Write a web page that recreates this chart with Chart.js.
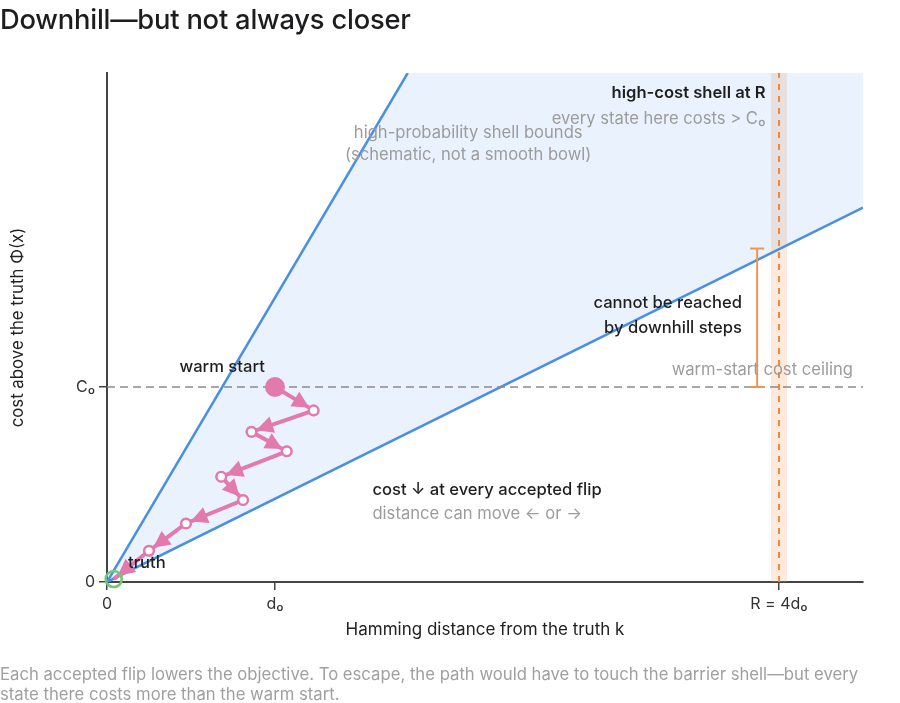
<!DOCTYPE html>
<html><head><meta charset="utf-8">
<script src="https://cdn.jsdelivr.net/npm/chart.js@4"></script>
<style>
body{margin:0;background:#fff;font-family:Inter,"Noto Sans",sans-serif;}
#wrap{position:relative;width:900px;height:703px;overflow:hidden}
#title{position:absolute;left:0;top:4px;font-size:27.3px;font-weight:500;color:#1d1d1f;line-height:32px;white-space:nowrap;letter-spacing:-0.2px}
#caption{position:absolute;left:0;top:664px;width:900px;font-size:16.7px;line-height:20px;color:#a0a0a0;white-space:nowrap}
#cv{position:absolute;left:0;top:0}
</style></head><body>
<div id="wrap">
<canvas id="cv"></canvas>
<div id="title">Downhill—but not always closer</div>
<div id="caption">Each accepted flip lowers the objective. To escape, the path would have to touch the barrier shell—but every<br>state there costs more than the warm start.</div>
</div>
<script>
// ---- data ----
const xTickValues = [0, 1, 4];
const xTickLabels = ['0', 'd\u2080', 'R = 4d\u2080'];
const yTickValues = [0, 1];
const yTickLabels = ['0', 'C\u2080'];
const xMax = 4.5;
const yMax = 2.61;
const steepBoundX = [0, 1.79];
const steepBoundY = [0, 2.61];
const shallowBoundX = [0, 4.5];
const shallowBoundY = [0, 1.92];
const pathX = [1.00, 1.23, 0.86, 1.07, 0.68, 0.81, 0.47, 0.25, 0.04];
const pathY = [1.00, 0.88, 0.77, 0.67, 0.54, 0.42, 0.30, 0.16, 0.015];
const truthX = [0.04];
const truthY = [0.015];
const warmStartCost = 1;      // C0
const shellDistance = 4;      // R
const barrierBarX = [3.87, 3.87];
const barrierBarY = [1, 1.71];

const FONT = 'Inter, "Noto Sans", sans-serif';
const pts = (xs, ys) => xs.map((x, i) => ({x, y: ys[i]}));

const fillPoly = [
  {x: steepBoundX[0], y: steepBoundY[0]},
  {x: steepBoundX[1], y: steepBoundY[1]},
  {x: xMax, y: yMax},
  {x: shallowBoundX[1], y: shallowBoundY[1]}
];

const notes = [
  {t:'high-probability shell bounds', x:2.15, y:2.30, align:'center', color:'#9c9c9c', w:400},
  {t:'(schematic, not a smooth bowl)', x:2.15, y:2.19, align:'center', color:'#9c9c9c', w:400},
  {t:'high-cost shell at R', x:3.92, y:2.505, align:'right', color:'#1f1f1f', w:600},
  {t:'every state here costs > C\u2080', x:3.92, y:2.375, align:'right', color:'#9c9c9c', w:400},
  {t:'cannot be reached', x:3.78, y:1.43, align:'right', color:'#1f1f1f', w:500},
  {t:'by downhill steps', x:3.78, y:1.305, align:'right', color:'#1f1f1f', w:500},
  {t:'warm-start cost ceiling', x:4.44, y:1.085, align:'right', color:'#9c9c9c', w:400},
  {t:'warm start', x:0.685, y:1.10, align:'center', color:'#1f1f1f', w:500},
  {t:'truth', x:0.125, y:0.097, align:'left', color:'#1f1f1f', w:500},
  {t:'cost \u2193 at every accepted flip', x:1.58, y:0.47, align:'left', color:'#1f1f1f', w:500},
  {t:'distance can move \u2190 or \u2192', x:1.58, y:0.35, align:'left', color:'#9c9c9c', w:400}
];

const PINK = '#e27aae';
const ORANGE = '#ec8a3c';

const bandPlugin = {
  id: 'band',
  beforeDatasetsDraw(chart) {
    const {ctx, chartArea, scales} = chart;
    const px = scales.x.getPixelForValue(shellDistance);
    ctx.save();
    ctx.fillStyle = 'rgba(245,160,100,0.22)';
    ctx.fillRect(px - 8, chartArea.top, 16, chartArea.bottom - chartArea.top);
    ctx.restore();
  }
};

const arrowPlugin = {
  id: 'arrows',
  afterDatasetsDraw(chart) {
    const {ctx} = chart;
    const idx = chart.data.datasets.findIndex(d => d.label === 'path');
    const meta = chart.getDatasetMeta(idx);
    const p = meta.data;
    ctx.save();
    ctx.fillStyle = PINK;
    for (let i = 0; i < p.length - 1; i++) {
      const a = p[i], b = p[i + 1];
      const dx = b.x - a.x, dy = b.y - a.y;
      const L = Math.hypot(dx, dy);
      const ux = dx / L, uy = dy / L;
      const tipOff = 5;
      const tx = b.x - ux * tipOff, ty = b.y - uy * tipOff;
      const len = 17, hw = 8.5;
      const bx = tx - ux * len, by = ty - uy * len;
      ctx.beginPath();
      ctx.moveTo(tx, ty);
      ctx.lineTo(bx - uy * hw, by + ux * hw);
      ctx.lineTo(bx + uy * hw, by - ux * hw);
      ctx.closePath();
      ctx.fill();
    }
    for (let i = 1; i < p.length - 1; i++) {
      ctx.beginPath();
      ctx.arc(p[i].x, p[i].y, 4.8, 0, Math.PI * 2);
      ctx.fillStyle = '#fff';
      ctx.fill();
      ctx.lineWidth = 2.4;
      ctx.strokeStyle = PINK;
      ctx.stroke();
    }
    // truth marker on top
    const tm = chart.getDatasetMeta(chart.data.datasets.findIndex(d => d.label === 'truth')).data[0];
    ctx.beginPath();
    ctx.arc(tm.x, tm.y, 8, 0, Math.PI * 2);
    ctx.lineWidth = 2.6;
    ctx.strokeStyle = '#72c676';
    ctx.stroke();
    ctx.restore();
  }
};

const textPlugin = {
  id: 'notes',
  afterDraw(chart) {
    const {ctx, scales} = chart;
    ctx.save();
    ctx.textBaseline = 'middle';
    for (const n of notes) {
      ctx.font = n.w + ' 16.6px ' + FONT;
      ctx.fillStyle = n.color;
      ctx.textAlign = n.align;
      ctx.fillText(n.t, scales.x.getPixelForValue(n.x), scales.y.getPixelForValue(n.y));
    }
    ctx.restore();
  }
};

new Chart(document.getElementById('cv'), {
  type: 'scatter',
  data: {
    datasets: [
      {label:'fill', data: fillPoly, showLine:true, fill:'shape', backgroundColor:'rgba(80,150,235,0.12)', borderWidth:0, pointRadius:0, order:10},
      {label:'steep', data: pts(steepBoundX, steepBoundY), showLine:true, borderColor:'#4a8fe2', borderWidth:2.5, pointRadius:0, order:8},
      {label:'shallow', data: pts(shallowBoundX, shallowBoundY), showLine:true, borderColor:'#4a8fe2', borderWidth:2.5, pointRadius:0, order:8},
      {label:'ceiling', data: [{x:0, y:warmStartCost}, {x:xMax, y:warmStartCost}], showLine:true, borderColor:'#8a8a8a', borderWidth:1.5, borderDash:[8,5], pointRadius:0, order:7},
      {label:'shell', data: [{x:shellDistance, y:0}, {x:shellDistance, y:yMax}], showLine:true, borderColor:ORANGE, borderWidth:2, borderDash:[6,6], pointRadius:0, order:6},
      {label:'barrier', data: pts(barrierBarX, barrierBarY), showLine:true, borderColor:'#ee9550', borderWidth:2, pointStyle:'line', pointRadius:7, pointBorderColor:'#ee9550', pointBorderWidth:2, order:5},
      {label:'truth', data: pts(truthX, truthY), showLine:false, pointRadius:0, clip:false, order:4},
      {label:'path', data: pts(pathX, pathY), showLine:true, borderColor:PINK, borderWidth:4,
        pointRadius: pathX.map((_, i) => i === 0 ? 9 : (i === pathX.length - 1 ? 0 : 4.8)),
        pointBackgroundColor: pathX.map((_, i) => i === 0 ? PINK : '#fff'),
        pointBorderColor: PINK, pointBorderWidth: 2, order:2}
    ]
  },
  options: {
    responsive: true,
    maintainAspectRatio: false,
    animation: false,
    layout: {padding: {top:73, right:37, bottom:61, left:0}},
    plugins: {legend:{display:false}, tooltip:{enabled:false}},
    scales: {
      x: {
        type:'linear', min:0, max:xMax,
        afterBuildTicks: s => { s.ticks = xTickValues.map(v => ({value:v})); },
        afterFit: s => { s.height = 60; },
        ticks: {callback:(v, i) => xTickLabels[i], color:'#333', font:{size:16, family:FONT}, padding:5, maxRotation:0, autoSkip:false},
        grid: {display:true, drawOnChartArea:false, drawTicks:true, tickLength:8, color:'#444', lineWidth:1.5},
        border: {display:true, color:'#444', width:2},
        title: {display:true, text:'Hamming distance from the truth k', color:'#222', font:{size:17, family:FONT}, padding:{top:0, bottom:2}}
      },
      y: {
        type:'linear', min:0, max:yMax,
        afterBuildTicks: s => { s.ticks = yTickValues.map(v => ({value:v})); },
        afterFit: s => { s.width = 107; },
        ticks: {callback:(v, i) => yTickLabels[i], color:'#333', font:{size:16, family:FONT}, padding:4},
        grid: {display:true, drawOnChartArea:false, drawTicks:true, tickLength:8, color:'#444', lineWidth:1.5},
        border: {display:true, color:'#444', width:2},
        title: {display:true, text:'cost above the truth \u03a6(x)', color:'#222', font:{size:16.8, family:FONT}, padding:{top:8, bottom:0}}
      }
    }
  },
  plugins: [bandPlugin, arrowPlugin, textPlugin]
});
</script>
</body></html>
